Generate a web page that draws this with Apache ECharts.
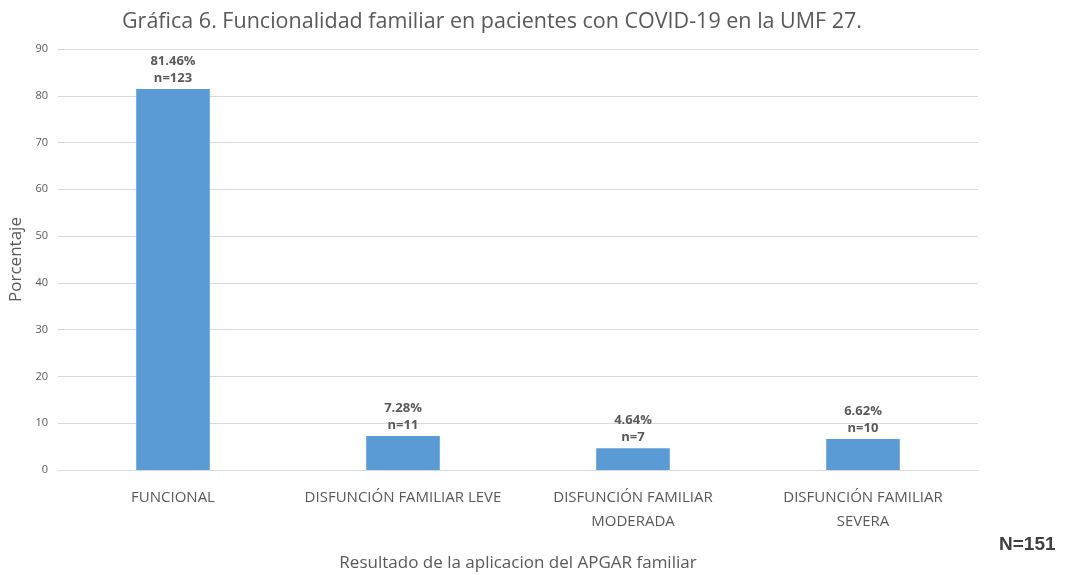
<!DOCTYPE html>
<html>
<head>
<meta charset="utf-8">
<script src="https://cdn.jsdelivr.net/npm/echarts@6/dist/echarts.min.js"></script>
<style>html,body{margin:0;padding:0;background:#fff}#c{width:1068px;height:575px}</style>
</head>
<body>
<div id="c"></div>
<script>
var categories = ["FUNCIONAL", "DISFUNCIÓN FAMILIAR LEVE", "DISFUNCIÓN FAMILIAR\nMODERADA", "DISFUNCIÓN FAMILIAR\nSEVERA"];
var percentages = [81.46, 7.28, 4.64, 6.62];
var counts = [123, 11, 7, 10];
var yTicks = [0, 10, 20, 30, 40, 50, 60, 70, 80, 90];

var FONT = '"Open Sans", sans-serif';
var chart = echarts.init(document.getElementById('c'), null, {renderer: 'canvas'});
chart.setOption({
  animation: false,
  backgroundColor: '#ffffff',
  title: {
    text: 'Gráfica 6. Funcionalidad familiar en pacientes con COVID-19 en la UMF 27.',
    left: 487, top: 6, textAlign: 'center',
    textStyle: {fontFamily: FONT, fontSize: 21.5, fontWeight: 'normal', color: '#595959'}
  },
  graphic: [{
    type: 'text', left: 999, top: 535,
    style: {text: 'N=151', font: 'bold 19px "Liberation Sans", sans-serif', fill: '#404040'}
  }],
  grid: {left: 58, right: 90, top: 49, bottom: 105, containLabel: false, outerBoundsMode: 'none'},
  xAxis: {
    type: 'category',
    data: categories,
    name: 'Resultado de la aplicacion del APGAR familiar',
    nameLocation: 'middle',
    nameGap: 85,
    nameTextStyle: {fontFamily: FONT, fontSize: 17, color: '#595959'},
    axisLine: {show: true, lineStyle: {color: '#D9D9D9'}},
    axisTick: {show: false},
    axisLabel: {fontFamily: FONT, fontSize: 15, color: '#595959', margin: 16, lineHeight: 24, interval: 0}
  },
  yAxis: {
    type: 'value',
    min: 0, max: 90, interval: 10,
    name: 'Porcentaje',
    nameLocation: 'middle',
    nameGap: 19,
    nameRotate: 90,
    nameTextStyle: {fontFamily: FONT, fontSize: 17, color: '#595959'},
    axisLine: {show: false},
    axisTick: {show: false},
    splitLine: {lineStyle: {color: '#D9D9D9', width: 1}},
    axisLabel: {
      fontFamily: FONT, fontSize: 11, color: '#595959', margin: 10,
      formatter: function (v) { return yTicks.indexOf(v) >= 0 ? String(v) : ''; }
    }
  },
  series: [{
    type: 'bar',
    data: percentages,
    barWidth: '32%',
    itemStyle: {color: '#5B9BD5'},
    label: {
      show: true, position: 'top', distance: 2,
      fontFamily: FONT, fontSize: 13, fontWeight: 'bold', color: '#595959', lineHeight: 17,
      formatter: function (p) { return p.value.toFixed(2) + '%\nn=' + counts[p.dataIndex]; }
    }
  }]
});
</script>
</body>
</html>
